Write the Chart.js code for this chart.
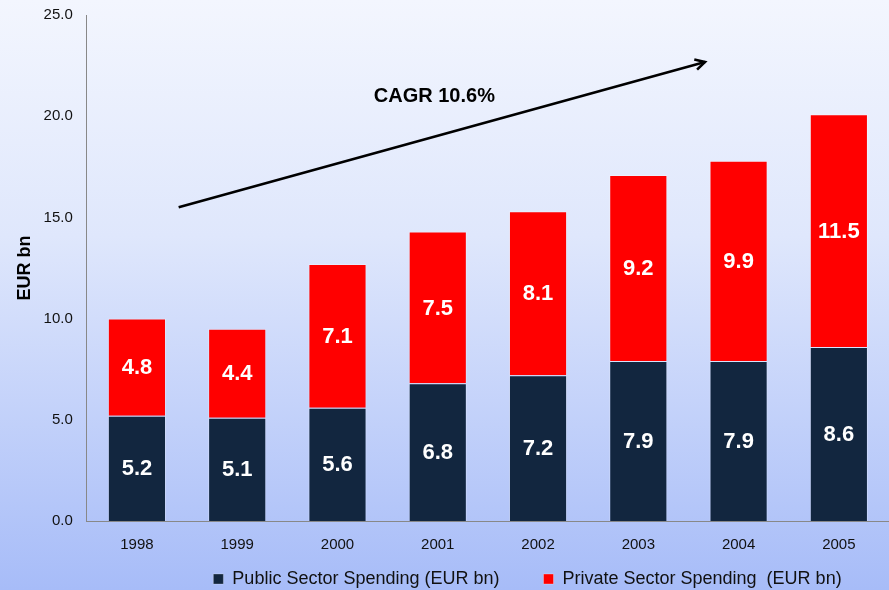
<!DOCTYPE html>
<html>
<head>
<meta charset="utf-8">
<script src="https://cdn.jsdelivr.net/npm/chart.js@4"></script>
<style>
  html, body { margin: 0; padding: 0; }
  body {
    width: 889px;
    height: 590px;
    background: linear-gradient(to bottom, #f3f6fe 0%, #dfe7fc 40%, #a7bcf8 100%);
    overflow: hidden;
  }
  #wrap { width: 889px; height: 590px; position: relative; }
</style>
</head>
<body>
<div id="wrap"><canvas id="chart"></canvas></div>
<script>
const years = ["1998", "1999", "2000", "2001", "2002", "2003", "2004", "2005"];
const publicSpending = [5.2, 5.1, 5.6, 6.8, 7.2, 7.9, 7.9, 8.6];
const privateSpending = [4.8, 4.4, 7.1, 7.5, 8.1, 9.2, 9.9, 11.5];
const yTicks = [0, 5, 10, 15, 20, 25];

const FONT = "'Liberation Sans', Arial, sans-serif";

// white value labels in the middle of each segment
const segmentLabels = {
  id: "segmentLabels",
  afterDatasetsDraw(chart) {
    const ctx = chart.ctx;
    ctx.save();
    ctx.fillStyle = "#ffffff";
    ctx.font = "bold 22px " + FONT;
    ctx.textAlign = "center";
    ctx.textBaseline = "middle";
    chart.data.datasets.forEach((ds, i) => {
      chart.getDatasetMeta(i).data.forEach((bar, j) => {
        const mid = (bar.y + bar.base) / 2;
        ctx.fillText(ds.data[j].toFixed(1), bar.x, mid + 1);
      });
    });
    ctx.restore();
  },
};

// CAGR arrow, placed in data space
const cagrArrow = {
  id: "cagrArrow",
  afterDraw(chart) {
    const x = chart.scales.x, y = chart.scales.y, ctx = chart.ctx;
    const x0 = x.getPixelForValue(0.416), y0 = y.getPixelForValue(15.5);
    const x1 = x.getPixelForValue(5.665), y1 = y.getPixelForValue(22.68);
    ctx.save();
    ctx.strokeStyle = "#000";
    ctx.lineWidth = 2.6;
    ctx.beginPath();
    ctx.moveTo(x0, y0);
    ctx.lineTo(x1, y1);
    ctx.stroke();
    const a = Math.atan2(y1 - y0, x1 - x0);
    ctx.beginPath();
    ctx.moveTo(x1 - 11 * Math.cos(a - 0.5), y1 - 11 * Math.sin(a - 0.5));
    ctx.lineTo(x1, y1);
    ctx.lineTo(x1 - 11 * Math.cos(a + 0.5), y1 - 11 * Math.sin(a + 0.5));
    ctx.stroke();
    ctx.fillStyle = "#000";
    ctx.font = "bold 20px " + FONT;
    ctx.textAlign = "center";
    ctx.textBaseline = "middle";
    ctx.fillText("CAGR 10.6%", x.getPixelForValue(2.966), y.getPixelForValue(20.95));
    ctx.restore();
  },
};

// move the legend where the original has it
const legendShift = {
  id: "legendShift",
  afterLayout(chart) {
    chart.legend.left += 76;
    chart.legend.right += 76;
    chart.legend.top -= 35;
    chart.legend.bottom -= 35;
  },
};

new Chart(document.getElementById("chart"), {
  type: "bar",
  data: {
    labels: years,
    datasets: [
      {
        label: "Public Sector Spending (EUR bn)",
        data: publicSpending,
        backgroundColor: "#12263f",
        borderColor: "rgba(255,255,255,0.25)",
        borderWidth: 1,
      },
      {
        label: "Private Sector Spending  (EUR bn)",
        data: privateSpending,
        backgroundColor: "#ff0000",
        borderColor: "rgba(255,255,255,0.3)",
        borderWidth: 1,
      },
    ],
  },
  plugins: [segmentLabels, cagrArrow, legendShift],
  options: {
    responsive: true,
    maintainAspectRatio: false,
    animation: false,
    layout: { padding: { top: 5, left: 14, right: 0, bottom: -43 } },
    datasets: { bar: { barPercentage: 0.58, categoryPercentage: 1 } },
    plugins: {
      tooltip: { enabled: false },
      legend: {
        position: "bottom",
        labels: {
          color: "#111",
          font: { family: FONT, size: 18 },
          boxWidth: 10,
          boxHeight: 10,
          padding: 44,
        },
      },
    },
    scales: {
      x: {
        stacked: true,
        grid: { display: false },
        border: { display: true, color: "#888" },
        ticks: { color: "#111", font: { family: FONT, size: 15 }, padding: 7 },
      },
      y: {
        stacked: true,
        min: 0,
        max: 25,
        afterBuildTicks(axis) {
          axis.ticks = yTicks.map((v) => ({ value: v }));
        },
        grid: { display: false },
        border: { display: true, color: "#888" },
        ticks: {
          color: "#111",
          font: { family: FONT, size: 15 },
          padding: 6,
          callback: (v) => v.toFixed(1),
        },
        title: {
          display: true,
          text: "EUR bn",
          color: "#000",
          font: { family: FONT, size: 18, weight: "bold" },
          padding: { top: 0, bottom: 2 },
        },
      },
    },
  },
});
</script>
</body>
</html>
